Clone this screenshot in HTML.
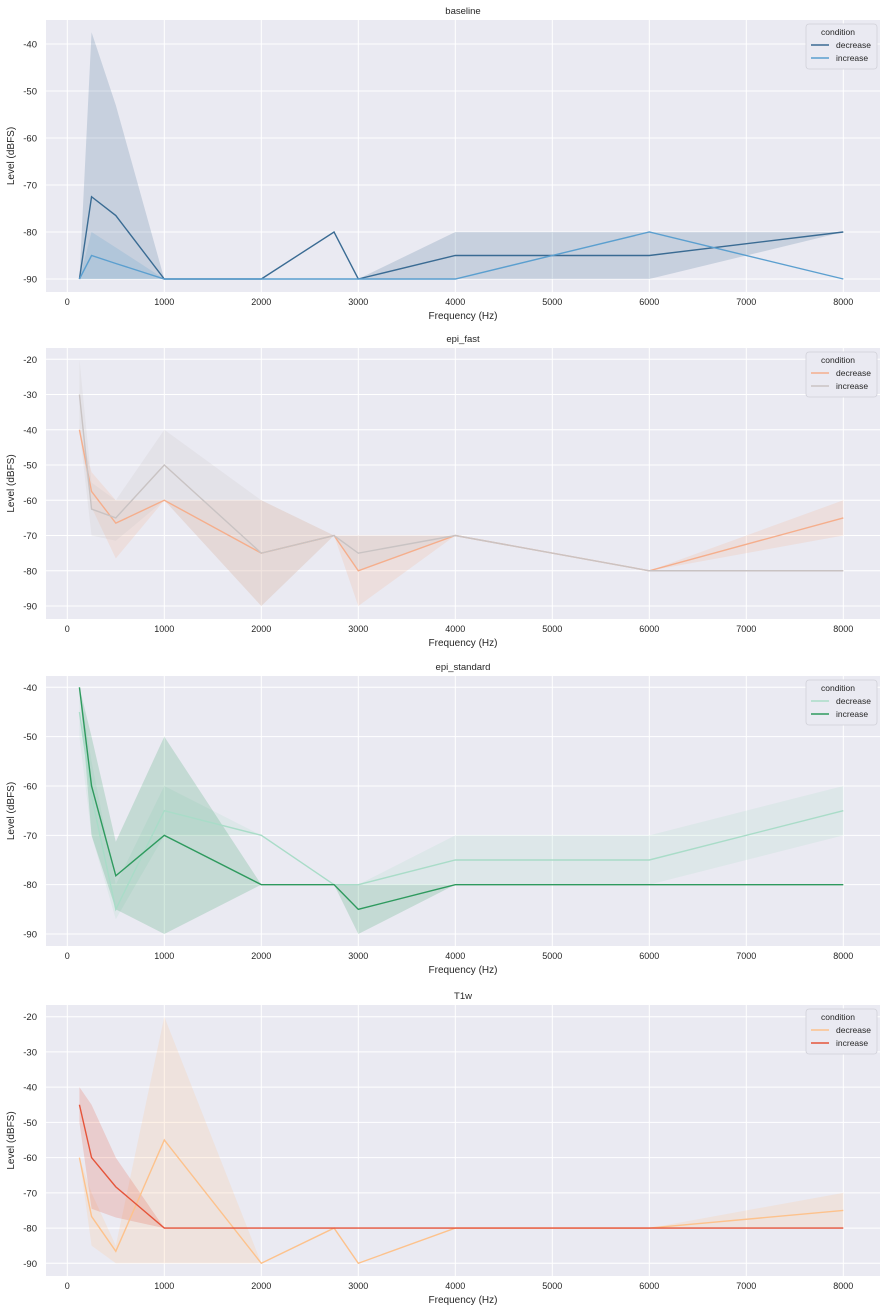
<!DOCTYPE html>
<html><head><meta charset="utf-8">
<style>
body{margin:0;background:#fff;}
svg{display:block;font-family:"Liberation Sans",sans-serif;}
</style></head>
<body>
<svg id="fig" width="892" height="1313"></svg>
<script>
const freqs = [125,250,500,1000,2000,2750,3000,4000,6000,8000];
const xTicks = [0,1000,2000,3000,4000,5000,6000,7000,8000];
const panelTitles = ["baseline","epi_fast","epi_standard","T1w"];
const yTicks1 = [-40,-50,-60,-70,-80,-90];
const yTicks2 = [-20,-30,-40,-50,-60,-70,-80,-90];
const yTicks3 = [-40,-50,-60,-70,-80,-90];
const yTicks4 = [-20,-30,-40,-50,-60,-70,-80,-90];
// baseline
const b_dec = [-90,-72.5,-76.5,-90,-90,-80,-90,-85,-85,-80];
const b_dec_hi = [-90,-37.5,-53,-90,-90,-80,-90,-80,-80,-80];
const b_dec_lo = [-90,-90,-90,-90,-90,-80,-90,-90,-90,-80];
const b_inc = [-90,-85,-86.7,-90,-90,-90,-90,-90,-80,-90];
const b_inc_hi = [-90,-80,-83.3,-90,-90,-90,-90,-90,-80,-90];
const b_inc_lo = [-90,-90,-90,-90,-90,-90,-90,-90,-80,-90];
// epi_fast
const f_dec = [-40,-57.5,-66.5,-60,-75,-70,-80,-70,-80,-65];
const f_dec_hi = [-40,-52,-60,-60,-60,-70,-70,-70,-80,-60];
const f_dec_lo = [-40,-62,-76.5,-60,-90,-70,-90,-70,-80,-70];
const f_inc = [-30,-62.5,-65,-50,-75,-70,-75,-70,-80,-80];
const f_inc_hi = [-20,-55,-60,-40,-60,-70,-70,-70,-80,-80];
const f_inc_lo = [-40,-70,-71.5,-60,-90,-70,-80,-70,-80,-80];
// epi_standard
const s_dec = [-45,-62,-85,-65,-70,-80,-80,-75,-75,-65];
const s_dec_hi = [-40,-55,-80,-60,-70,-80,-80,-70,-70,-60];
const s_dec_lo = [-50,-70,-87,-70,-70,-80,-80,-80,-80,-70];
const s_inc = [-40,-60,-78.2,-70,-80,-80,-85,-80,-80,-80];
const s_inc_hi = [-40,-50,-71.3,-50,-80,-80,-80,-80,-80,-80];
const s_inc_lo = [-40,-70,-85,-90,-80,-80,-90,-80,-80,-80];
// T1w
const t_dec = [-60,-76.7,-86.6,-55,-90,-80,-90,-80,-80,-75];
const t_dec_hi = [-60,-70,-85,-20,-90,-80,-90,-80,-80,-70];
const t_dec_lo = [-60,-85,-90,-90,-90,-80,-90,-80,-80,-80];
const t_inc = [-45,-60,-68.3,-80,-80,-80,-80,-80,-80,-80];
const t_inc_hi = [-40,-45,-60,-80,-80,-80,-80,-80,-80,-80];
const t_inc_lo = [-50,-74.5,-77,-80,-80,-80,-80,-80,-80,-80];

const panels = [
 {top:20,bot:292,yTop:-40,yTopPx:44,yBot:-90,yBotPx:279,ticks:yTicks1,
  dec:[b_dec,b_dec_hi,b_dec_lo,"#3a6b93"],inc:[b_inc,b_inc_hi,b_inc_lo,"#5b9fcf"],order:["dec","inc"]},
 {top:348,bot:619,yTop:-20,yTopPx:359.3,yBot:-90,yBotPx:606,ticks:yTicks2,
  dec:[f_dec,f_dec_hi,f_dec_lo,"#f5ae8c"],inc:[f_inc,f_inc_hi,f_inc_lo,"#c9c3c3"],order:["dec","inc"]},
 {top:676,bot:946,yTop:-40,yTopPx:687.3,yBot:-90,yBotPx:934,ticks:yTicks3,
  dec:[s_dec,s_dec_hi,s_dec_lo,"#a9dcc8"],inc:[s_inc,s_inc_hi,s_inc_lo,"#2e9a5e"],order:["dec","inc"]},
 {top:1005,bot:1276,yTop:-20,yTopPx:1016.7,yBot:-90,yBotPx:1263.3,ticks:yTicks4,
  dec:[t_dec,t_dec_hi,t_dec_lo,"#fdc28c"],inc:[t_inc,t_inc_hi,t_inc_lo,"#e5543a"],order:["dec","inc"]}
];
const NS="http://www.w3.org/2000/svg";
const svg=document.getElementById('fig');
function mk(tag,attrs,parent){const e=document.createElementNS(NS,tag);for(const k in attrs)e.setAttribute(k,attrs[k]);(parent||svg).appendChild(e);return e;}
const L=46,R=880;
const xs=v=>67.3+v*0.097;
panels.forEach((p,i)=>{
  const ys=v=>p.yTopPx+(v-p.yTop)*(p.yBotPx-p.yTopPx)/(p.yBot-p.yTop);
  const g=mk('g',{});
  
  
  const bg=mk('rect',{x:L,y:p.top,width:R-L,height:p.bot-p.top,fill:"#eaeaf2"},g);
  
  xTicks.forEach(t=>{
    const gl=mk('line',{x1:xs(t),x2:xs(t),y1:p.top,y2:p.bot,stroke:"#fff","stroke-width":1},g);
    
    const tx=mk('text',{x:xs(t),y:p.bot+13,"font-size":9,"text-anchor":"middle",fill:"#262626"},g);
    tx.textContent=t;
    
  });
  p.ticks.forEach(t=>{
    const gl=mk('line',{x1:L,x2:R,y1:ys(t),y2:ys(t),stroke:"#fff","stroke-width":1},g);
    
    const tx=mk('text',{x:37,y:ys(t)+3.5,"font-size":9.5,"text-anchor":"end",fill:"#262626"},g);
    tx.textContent=t;
    
  });
  ["dec","inc"].forEach(k=>{
    const [m,hi,lo,c]=p[k];
    let d=freqs.map((f,j)=>(j?'L':'M')+xs(f)+','+ys(hi[j])).join(' ');
    for(let j=freqs.length-1;j>=0;j--)d+=' L'+xs(freqs[j])+','+ys(lo[j]);
    const band=mk('path',{d:d+'Z',fill:c,"fill-opacity":0.2},g);
    
    
  });
  ["dec","inc"].forEach(k=>{
    const [m,hi,lo,c]=p[k];
    const ln=mk('polyline',{points:freqs.map((f,j)=>xs(f)+','+ys(m[j])).join(' '),fill:"none",stroke:c,"stroke-width":1.4},g);
    
    
  });
  const tt=mk('text',{x:(L+R)/2,y:p.top-6,"font-size":9.5,"text-anchor":"middle",fill:"#262626"},g);
  tt.textContent=panelTitles[i];
  
  const xt=mk('text',{x:(L+R)/2,y:p.bot+27,"font-size":10,"text-anchor":"middle",fill:"#262626"},g);
  xt.textContent="Frequency (Hz)";
  
  const cy=(p.top+p.bot)/2;
  const yt=mk('text',{x:0,y:0,"font-size":10,"text-anchor":"middle",fill:"#262626",transform:`translate(14,${cy}) rotate(-90)`},g);
  yt.textContent="Level (dBFS)";
  
  // legend
  const lg=mk('g',{},g);
  
  mk('rect',{x:806,y:p.top+4,width:71,height:45,rx:3,fill:"#eaeaf2",stroke:"#d0d0d8","stroke-width":0.8},lg);
  const t1=mk('text',{x:838,y:p.top+15,"font-size":8.5,"text-anchor":"middle",fill:"#262626"},lg);
  t1.textContent="condition";
  
  [["dec","decrease"],["inc","increase"]].forEach(([k,lab],j)=>{
    const y=p.top+28+j*13;
    const sw=mk('line',{x1:811,x2:829,y1:y-3,y2:y-3,stroke:p[k][3],"stroke-width":1.4},lg);
    
    const tx=mk('text',{x:836,y:y,"font-size":8.5,fill:"#262626"},lg);
    tx.textContent=lab;
    
  });
});
</script>
</body></html>
